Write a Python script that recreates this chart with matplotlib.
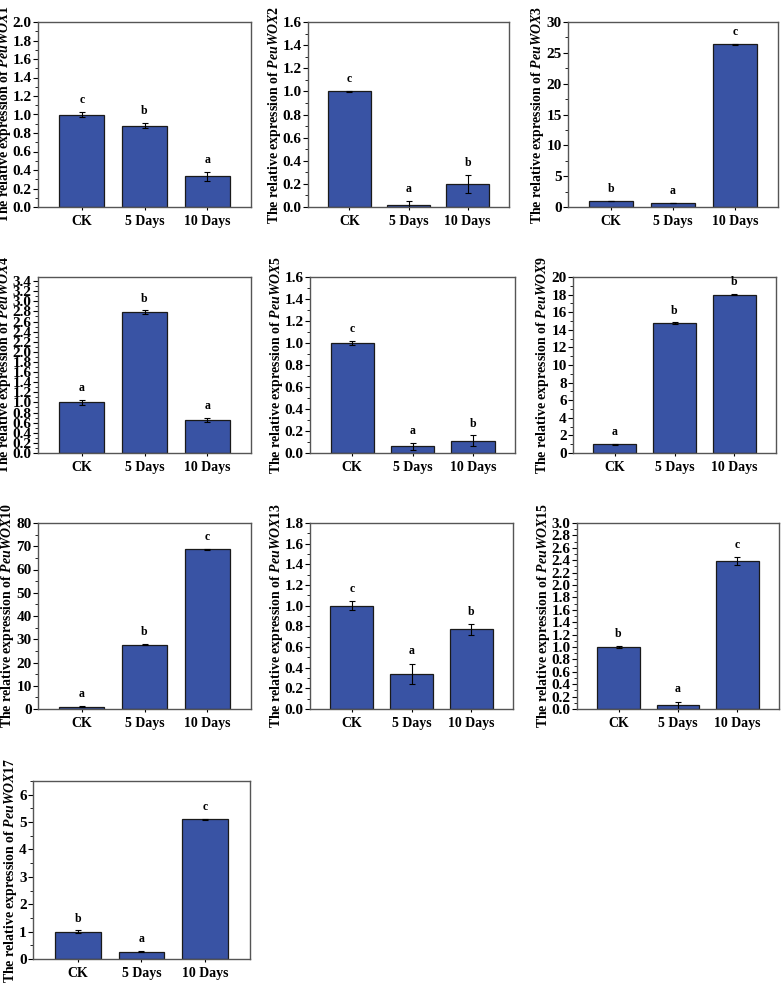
import matplotlib
matplotlib.use("Agg")
import matplotlib.pyplot as plt
from matplotlib.ticker import MultipleLocator, AutoMinorLocator, FormatStrFormatter
import numpy as np

plt.rcParams['font.family'] = ['Liberation Serif', 'DejaVu Serif']
plt.rcParams['font.weight'] = 'bold'
plt.rcParams['mathtext.fontset'] = 'custom'
plt.rcParams['mathtext.it'] = 'Liberation Serif:italic:bold'
plt.rcParams['mathtext.rm'] = 'Liberation Serif:bold'

categories = ["CK", "5 Days", "10 Days"]

genes = ["PeuWOX1", "PeuWOX2", "PeuWOX3", "PeuWOX4", "PeuWOX5",
         "PeuWOX9", "PeuWOX10", "PeuWOX13", "PeuWOX15", "PeuWOX17"]

wox1 = [1.00, 0.88, 0.33]
wox2 = [1.00, 0.02, 0.20]
wox3 = [1.00, 0.60, 26.4]
wox4 = [1.00, 2.78, 0.66]
wox5 = [1.00, 0.06, 0.11]
wox9 = [1.00, 14.75, 18.0]
wox10 = [1.00, 27.7, 68.7]
wox13 = [1.00, 0.34, 0.77]
wox15 = [1.00, 0.06, 2.39]
wox17 = [1.00, 0.27, 5.10]

err1 = [0.025, 0.03, 0.05]
err2 = [0.006, 0.03, 0.08]
err3 = [0.05, 0.03, 0.05]
err4 = [0.05, 0.04, 0.04]
err5 = [0.02, 0.035, 0.05]
err9 = [0.05, 0.08, 0.08]
err10 = [0.1, 0.1, 0.1]
err13 = [0.045, 0.10, 0.05]
err15 = [0.02, 0.06, 0.06]
err17 = [0.05, 0.02, 0.02]

sig1 = ["c", "b", "a"]
sig2 = ["c", "a", "b"]
sig3 = ["b", "a", "c"]
sig4 = ["a", "b", "a"]
sig5 = ["c", "a", "b"]
sig9 = ["a", "b", "b"]
sig10 = ["a", "b", "c"]
sig13 = ["c", "a", "b"]
sig15 = ["b", "a", "c"]
sig17 = ["b", "a", "c"]

ymax = [2.0, 1.6, 30, 3.48, 1.6, 20, 80, 1.8, 3.0, 6.5]
ystep = [0.2, 0.2, 5, 0.2, 0.2, 2, 10, 0.2, 0.2, 1]
yfmt = ["%.1f", "%.1f", "%d", "%.1f", "%.1f", "%d", "%d", "%.1f", "%.1f", "%d"]

values = [wox1, wox2, wox3, wox4, wox5, wox9, wox10, wox13, wox15, wox17]
errors = [err1, err2, err3, err4, err5, err9, err10, err13, err15, err17]
sigs = [sig1, sig2, sig3, sig4, sig5, sig9, sig10, sig13, sig15, sig17]

W, H = 782, 985
fig = plt.figure(figsize=(W / 100, H / 100), dpi=100)

rects = [(38, 22, 251, 207), (308, 22, 509, 207), (568, 22, 778, 207),
         (38, 277, 251, 453), (310, 277, 515, 453), (573, 277, 776, 453),
         (38, 523, 251, 709), (310, 523, 513, 709), (577, 523, 779, 709),
         (33, 781, 250, 959)]

bar_color = "#3953A4"
x = np.arange(len(categories))

for i, (l, t, r, b) in enumerate(rects):
    ax = fig.add_axes([l / W, 1 - b / H, (r - l) / W, (b - t) / H])
    ax.bar(x, values[i], width=0.72, color=bar_color, edgecolor="#1a1a1a", linewidth=0.9)
    ax.errorbar(x, values[i], yerr=errors[i], fmt="none", ecolor="black",
                elinewidth=0.8, capsize=2, capthick=0.8)
    for xi, v, e, s in zip(x, values[i], errors[i], sigs[i]):
        ax.text(xi, v + e + 0.065 * ymax[i], s, ha="center", va="center",
                fontsize=8.5, fontweight="bold")
    ax.set_xlim(-0.7, 2.7)
    ax.set_ylim(0, ymax[i])
    ax.yaxis.set_major_locator(MultipleLocator(ystep[i]))
    ax.yaxis.set_minor_locator(AutoMinorLocator(2))
    ax.yaxis.set_major_formatter(FormatStrFormatter(yfmt[i]))
    ax.set_xticks(x)
    ax.set_xticklabels(categories, fontsize=10, fontweight="bold")
    for lab in ax.get_yticklabels():
        lab.set_fontsize(11)
        lab.set_fontweight("bold")
    ax.tick_params(axis="y", which="major", direction="out", length=3.5, width=0.8, pad=1)
    ax.tick_params(axis="y", which="minor", direction="out", length=2, width=0.6)
    ax.tick_params(axis="x", which="major", direction="out", length=2.5, width=0.8, pad=3)
    for sp in ax.spines.values():
        sp.set_color("#555555")
        sp.set_linewidth(1.0)
    ax.set_ylabel(r"The relative expression of $\mathit{" + genes[i] + "}$",
                  fontsize=10, fontweight="bold", labelpad=0)

fig.savefig("out.png", dpi=100)
